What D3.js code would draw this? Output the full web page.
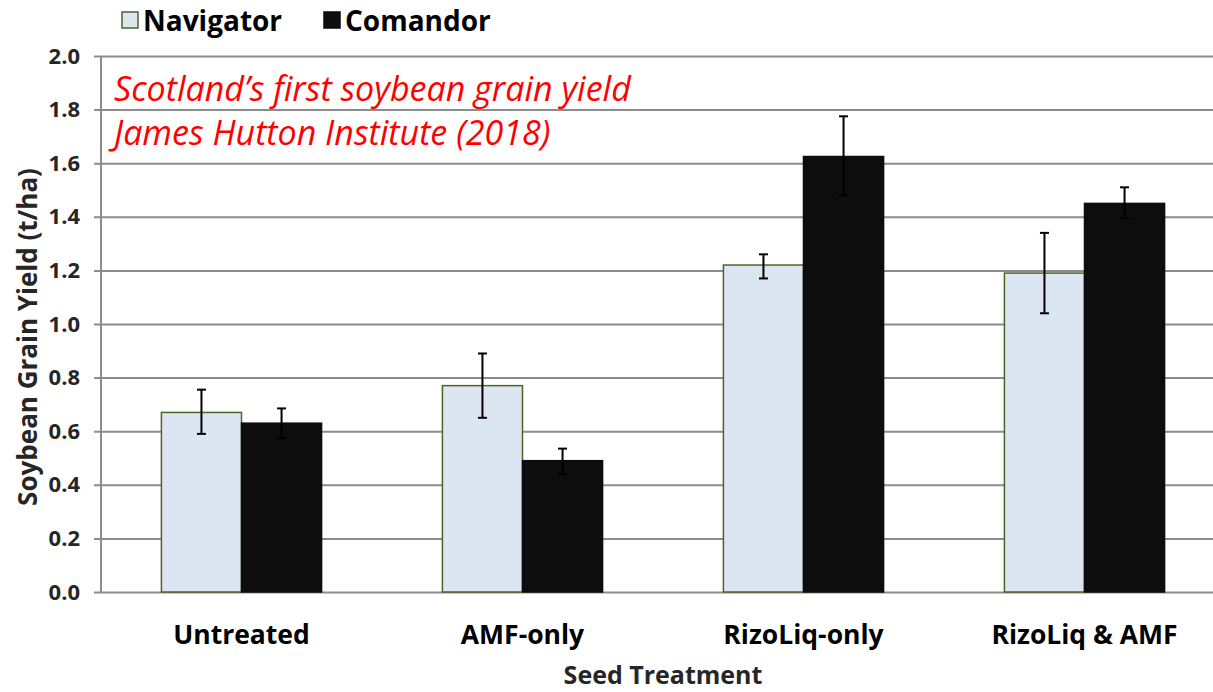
<!DOCTYPE html>
<html>
<head>
<meta charset="utf-8">
<script src="https://cdn.jsdelivr.net/npm/d3@7"></script>
<style>
  body { margin: 0; background: #fff; }
  text { font-family: "Open Sans", "Noto Sans", sans-serif; }
</style>
</head>
<body>
<script>
// data
var treatments = ["Untreated", "AMF-only", "RizoLiq-only", "RizoLiq & AMF"];
var varieties = ["Navigator", "Comandor"];
var navVals = [0.67, 0.77, 1.22, 1.19];
var navLo = [0.59, 0.65, 1.17, 1.04];
var navHi = [0.755, 0.89, 1.26, 1.34];
var comVals = [0.63, 0.49, 1.625, 1.45];
var comLo = [0.575, 0.44, 1.48, 1.395];
var comHi = [0.685, 0.535, 1.775, 1.51];
var yTicks = [0, 0.2, 0.4, 0.6, 0.8, 1.0, 1.2, 1.4, 1.6, 1.8, 2.0];

var W = 1213, H = 692;
var margin = {top: 56, right: -12, bottom: 100, left: 101};

var svg = d3.select("body").append("svg")
    .attr("width", W)
    .attr("height", H);

var x0 = d3.scaleBand()
    .domain(treatments)
    .range([margin.left, W - margin.right])
    .paddingInner(0.43)
    .paddingOuter(0.215);

var x1 = d3.scaleBand()
    .domain(varieties)
    .range([0, x0.bandwidth()]);

var y = d3.scaleLinear()
    .domain([0, 2])
    .range([H - margin.bottom, margin.top]);

var colors = {Navigator: "#dce6f2", Comandor: "#0d0d0d"};
var strokes = {Navigator: "#4f6228", Comandor: "#0d0d0d"};

// gridlines + ticks
var yAxis = svg.append("g")
    .attr("transform", "translate(" + margin.left + ",0)")
    .call(d3.axisLeft(y).tickValues(yTicks).tickFormat(d3.format(".1f"))
        .tickSize(-(W - margin.left)).tickSizeOuter(0).tickPadding(21));
yAxis.select(".domain").remove();
yAxis.selectAll(".tick line")
    .attr("x1", -7)
    .attr("stroke", "#8c8c8c")
    .attr("stroke-width", 2);
yAxis.selectAll(".tick text")
    .attr("font-size", 22)
    .attr("font-weight", "bold")
    .attr("fill", "#262626");

svg.append("line")
    .attr("x1", margin.left).attr("x2", margin.left)
    .attr("y1", y(2)).attr("y2", y(0))
    .attr("stroke", "#8c8c8c")
    .attr("stroke-width", 2);

var rows = treatments.map(function(t, i) {
  return {
    t: t,
    vals: [
      {k: "Navigator", v: navVals[i], lo: navLo[i], hi: navHi[i]},
      {k: "Comandor", v: comVals[i], lo: comLo[i], hi: comHi[i]}
    ]
  };
});

var groups = svg.selectAll(".grp")
    .data(rows)
    .enter().append("g")
    .attr("class", "grp")
    .attr("transform", function(d) { return "translate(" + x0(d.t) + ",0)"; });

groups.selectAll("rect")
    .data(function(d) { return d.vals; })
    .enter().append("rect")
    .attr("x", function(d) { return x1(d.k); })
    .attr("width", x1.bandwidth())
    .attr("y", function(d) { return y(d.v); })
    .attr("height", function(d) { return y(0) - y(d.v); })
    .attr("fill", function(d) { return colors[d.k]; })
    .attr("stroke", function(d) { return strokes[d.k]; })
    .attr("stroke-width", 1.5);

// error bars
var err = groups.selectAll(".err")
    .data(function(d) { return d.vals; })
    .enter().append("g")
    .attr("class", "err")
    .attr("transform", function(d) { return "translate(" + (x1(d.k) + x1.bandwidth() / 2) + ",0)"; });
err.append("line")
    .attr("y1", function(d) { return y(d.lo); })
    .attr("y2", function(d) { return y(d.hi); })
    .attr("stroke", "#000").attr("stroke-width", 2);
err.selectAll(".cap")
    .data(function(d) { return [d.lo, d.hi]; })
    .enter().append("line")
    .attr("x1", -4.5).attr("x2", 4.5)
    .attr("y1", function(v) { return y(v); })
    .attr("y2", function(v) { return y(v); })
    .attr("stroke", "#000").attr("stroke-width", 2);

// x labels
svg.selectAll(".xlab")
    .data(treatments)
    .enter().append("text")
    .attr("class", "xlab")
    .attr("x", function(d) { return x0(d) + x0.bandwidth() / 2; })
    .attr("y", 644)
    .attr("text-anchor", "middle")
    .attr("font-size", 26.5)
    .attr("font-weight", "bold")
    .attr("fill", "#000")
    .text(function(d) { return d; });

svg.append("text")
    .attr("x", 663).attr("y", 684)
    .attr("text-anchor", "middle")
    .attr("font-size", 25)
    .attr("font-weight", "bold")
    .attr("fill", "#262626")
    .text("Seed Treatment");

svg.append("text")
    .attr("transform", "translate(37,337) rotate(-90)")
    .attr("text-anchor", "middle")
    .attr("font-size", 26)
    .attr("font-weight", "bold")
    .attr("fill", "#262626")
    .text("Soybean Grain Yield (t/ha)");

// annotation
var note = ["Scotland\u2019s first soybean grain yield", "James Hutton Institute (2018)"];
svg.selectAll(".note")
    .data(note)
    .enter().append("text")
    .attr("class", "note")
    .attr("x", 114)
    .attr("y", function(d, i) { return 101 + i * 44; })
    .attr("font-size", 34)
    .attr("font-style", "italic")
    .attr("fill", "#ff0000")
    .text(function(d) { return d; });

// legend
var legX = [122, 324];
var leg = svg.selectAll(".leg")
    .data(varieties)
    .enter().append("g")
    .attr("class", "leg")
    .attr("transform", function(d, i) { return "translate(" + legX[i] + ",12)"; });
leg.append("rect")
    .attr("width", 16).attr("height", 16)
    .attr("fill", function(d) { return colors[d]; })
    .attr("stroke", function(d) { return strokes[d]; })
    .attr("stroke-width", 1.5);
leg.append("text")
    .attr("x", 21).attr("y", 19)
    .attr("font-size", 28)
    .attr("font-weight", "bold")
    .attr("fill", "#000")
    .text(function(d) { return d; });
</script>
</body>
</html>
